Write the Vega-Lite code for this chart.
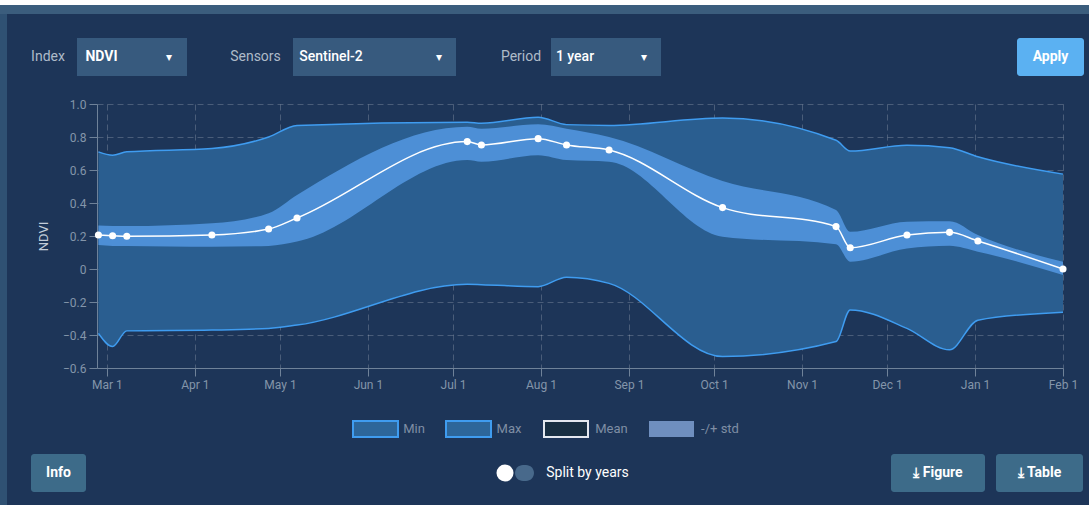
{
  "$schema": "https://vega.github.io/schema/vega-lite/v6.json",
  "padding": 0,
  "background": "#1d3558",
  "spacing": 0,
  "bounds": "full",
  "data": {"values": [{}]},
  "datasets": {
    "ndvi": [
      {"date": "2021-02-26", "min": -0.39, "lo": 0.145, "mean": 0.206, "hi": 0.263, "max": 0.71},
      {"date": "2021-03-03", "min": -0.47, "lo": 0.14, "mean": 0.202, "hi": 0.26, "max": 0.69},
      {"date": "2021-03-08", "min": -0.375, "lo": 0.14, "mean": 0.198, "hi": 0.26, "max": 0.71},
      {"date": "2021-04-07", "min": -0.37, "lo": 0.135, "mean": 0.206, "hi": 0.277, "max": 0.73},
      {"date": "2021-04-27", "min": -0.36, "lo": 0.14, "mean": 0.242, "hi": 0.338, "max": 0.8},
      {"date": "2021-05-07", "min": -0.34, "lo": 0.166, "mean": 0.309, "hi": 0.449, "max": 0.87},
      {"date": "2021-07-06", "min": -0.093, "lo": 0.66, "mean": 0.772, "hi": 0.862, "max": 0.89},
      {"date": "2021-07-11", "min": -0.095, "lo": 0.65, "mean": 0.752, "hi": 0.85, "max": 0.883},
      {"date": "2021-07-31", "min": -0.107, "lo": 0.69, "mean": 0.79, "hi": 0.877, "max": 0.92},
      {"date": "2021-08-10", "min": -0.05, "lo": 0.66, "mean": 0.752, "hi": 0.85, "max": 0.875},
      {"date": "2021-08-25", "min": -0.087, "lo": 0.65, "mean": 0.721, "hi": 0.8, "max": 0.87},
      {"date": "2021-10-04", "min": -0.53, "lo": 0.196, "mean": 0.372, "hi": 0.533, "max": 0.915},
      {"date": "2021-11-13", "min": -0.44, "lo": 0.15, "mean": 0.257, "hi": 0.358, "max": 0.78},
      {"date": "2021-11-18", "min": -0.248, "lo": 0.044, "mean": 0.129, "hi": 0.226, "max": 0.715},
      {"date": "2021-12-08", "min": -0.36, "lo": 0.125, "mean": 0.206, "hi": 0.287, "max": 0.75},
      {"date": "2021-12-23", "min": -0.49, "lo": 0.141, "mean": 0.222, "hi": 0.29, "max": 0.735},
      {"date": "2022-01-02", "min": -0.31, "lo": 0.105, "mean": 0.17, "hi": 0.206, "max": 0.68},
      {"date": "2022-02-01", "min": -0.262, "lo": -0.036, "mean": 0.0, "hi": 0.044, "max": 0.575}
    ]
  },
  "config": {
    "view": {"stroke": null},
    "font": "Roboto",
    "concat": {"spacing": 0},
    "text": {"font": "Roboto"},
    "axis": {
      "domainColor": "#6f8299",
      "tickColor": "#6f8299",
      "tickSize": 8,
      "labelColor": "#8495aa",
      "labelFont": "Roboto",
      "labelFontSize": 12,
      "labelPadding": 3,
      "labelOverlap": false,
      "grid": true,
      "gridColor": "#ffffff",
      "gridOpacity": 0.2,
      "gridDash": [6, 4],
      "titleColor": "#c3cdd9",
      "titleFont": "Roboto",
      "titleFontSize": 13,
      "titleFontWeight": "normal",
      "zindex": 1
    },
    "axisY": {"titlePadding": 12}
  },
  "vconcat": [
    {"width": 1089, "height": 5, "view": {"fill": "#ffffff"}, "mark": {"type": "text", "fontSize": 0}, "encoding": {"text": {"value": ""}}},
    {"width": 1089, "height": 9, "view": {"fill": "#3b5d7d"}, "mark": {"type": "text", "fontSize": 0}, "encoding": {"text": {"value": ""}}},
    {
      "spacing": 0,
      "bounds": "full",
      "hconcat": [
        {"width": 7, "height": 491, "view": {"fill": "#2f5173"}, "mark": {"type": "text", "fontSize": 0}, "encoding": {"text": {"value": ""}}},
        {
          "spacing": 0,
          "bounds": "full",
          "vconcat": [
            {"width": 1, "height": 24, "mark": {"type": "text", "fontSize": 0}, "encoding": {"text": {"value": ""}}},
            {
              "spacing": 0,
              "bounds": "flush",
              "hconcat": [
                {"width": 12, "height": 38, "mark": {"type": "text", "fontSize": 0}, "encoding": {"text": {"value": ""}}},
                {"width": 58, "height": 38, "mark": {"type": "text", "fontSize": 14, "color": "#aebbc9"}, "encoding": {"text": {"value": "Index"}}},
                {"width": 49, "height": 38, "view": {"fill": "#375a7e"}, "mark": {"type": "text", "fontSize": 14, "fontWeight": "bold", "color": "#ffffff"}, "encoding": {"text": {"value": "NDVI"}}},
                {"width": 24, "height": 38, "view": {"fill": "#375a7e"}, "mark": {"type": "text", "fontSize": 0}, "encoding": {"text": {"value": ""}}},
                {"width": 37, "height": 38, "view": {"fill": "#375a7e"}, "mark": {"type": "text", "fontSize": 12, "color": "#ffffff"}, "encoding": {"text": {"value": "▾"}}},
                {"width": 31, "height": 38, "mark": {"type": "text", "fontSize": 0}, "encoding": {"text": {"value": ""}}},
                {"width": 75, "height": 38, "mark": {"type": "text", "fontSize": 14, "color": "#aebbc9"}, "encoding": {"text": {"value": "Sensors"}}},
                {"width": 76, "height": 38, "view": {"fill": "#375a7e"}, "mark": {"type": "text", "fontSize": 14, "fontWeight": 500, "color": "#ffffff"}, "encoding": {"text": {"value": "Sentinel-2"}}},
                {"width": 52, "height": 38, "view": {"fill": "#375a7e"}, "mark": {"type": "text", "fontSize": 0}, "encoding": {"text": {"value": ""}}},
                {"width": 35, "height": 38, "view": {"fill": "#375a7e"}, "mark": {"type": "text", "fontSize": 12, "color": "#ffffff"}, "encoding": {"text": {"value": "▾"}}},
                {"width": 35, "height": 38, "mark": {"type": "text", "fontSize": 0}, "encoding": {"text": {"value": ""}}},
                {"width": 60, "height": 38, "mark": {"type": "text", "fontSize": 14, "color": "#aebbc9"}, "encoding": {"text": {"value": "Period"}}},
                {"width": 48, "height": 38, "view": {"fill": "#375a7e"}, "mark": {"type": "text", "fontSize": 14, "fontWeight": 500, "color": "#ffffff"}, "encoding": {"text": {"value": "1 year"}}},
                {"width": 28, "height": 38, "view": {"fill": "#375a7e"}, "mark": {"type": "text", "fontSize": 0}, "encoding": {"text": {"value": ""}}},
                {"width": 34, "height": 38, "view": {"fill": "#375a7e"}, "mark": {"type": "text", "fontSize": 12, "color": "#ffffff"}, "encoding": {"text": {"value": "▾"}}},
                {"width": 356, "height": 38, "mark": {"type": "text", "fontSize": 0}, "encoding": {"text": {"value": ""}}},
                {"width": 67, "height": 38, "view": {"fill": "#5bb1f2", "cornerRadius": 3}, "mark": {"type": "text", "fontSize": 14, "fontWeight": "bold", "color": "#ffffff"}, "encoding": {"text": {"value": "Apply"}}}
              ]
            },
            {"width": 1, "height": 22, "mark": {"type": "text", "fontSize": 0}, "encoding": {"text": {"value": ""}}},
            {
              "spacing": 0,
              "bounds": "flush",
              "hconcat": [
                {"width": 90, "height": 264, "mark": {"type": "text", "fontSize": 0}, "encoding": {"text": {"value": ""}}},
                {
                  "width": 966,
                  "height": 264,
                  "data": {"name": "ndvi"},
                  "encoding": {
                    "x": {
                      "field": "date",
                      "type": "temporal",
                      "title": null,
                      "scale": {
                        "type": "utc",
                        "domain": [
                          {"year": 2021, "month": 2, "date": 25, "hours": 12, "utc": true},
                          {"year": 2022, "month": 2, "date": 1, "utc": true}
                        ]
                      },
                      "axis": {"format": "%b %-d", "tickCount": {"interval": "month", "step": 1}, "labelFlush": false}
                    }
                  },
                  "layer": [
                    {
                      "mark": {"type": "area", "interpolate": "monotone", "color": "#2a5e90"},
                      "encoding": {
                        "y": {
                          "field": "min",
                          "type": "quantitative",
                          "title": "NDVI",
                          "scale": {"domain": [-0.6, 1], "nice": false, "zero": false},
                          "axis": {"values": [-0.6, -0.4, -0.2, 0, 0.2, 0.4, 0.6, 0.8, 1], "labelExpr": "datum.value == 0 ? '0' : format(datum.value, '.1f')"}
                        },
                        "y2": {"field": "max"}
                      }
                    },
                    {
                      "mark": {"type": "area", "interpolate": "monotone", "color": "#4d8fd6"},
                      "encoding": {
                        "y": {
                          "field": "lo",
                          "type": "quantitative",
                          "title": "NDVI",
                          "axis": {"values": [-0.6, -0.4, -0.2, 0, 0.2, 0.4, 0.6, 0.8, 1], "labelExpr": "datum.value == 0 ? '0' : format(datum.value, '.1f')"}
                        },
                        "y2": {"field": "hi"}
                      }
                    },
                    {
                      "mark": {"type": "line", "interpolate": "monotone", "color": "#3f9cf0", "strokeWidth": 1.5},
                      "encoding": {
                        "y": {
                          "field": "max",
                          "type": "quantitative",
                          "title": "NDVI",
                          "axis": {"values": [-0.6, -0.4, -0.2, 0, 0.2, 0.4, 0.6, 0.8, 1], "labelExpr": "datum.value == 0 ? '0' : format(datum.value, '.1f')"}
                        }
                      }
                    },
                    {
                      "mark": {"type": "line", "interpolate": "monotone", "color": "#3f9cf0", "strokeWidth": 1.5},
                      "encoding": {
                        "y": {
                          "field": "min",
                          "type": "quantitative",
                          "title": "NDVI",
                          "axis": {"values": [-0.6, -0.4, -0.2, 0, 0.2, 0.4, 0.6, 0.8, 1], "labelExpr": "datum.value == 0 ? '0' : format(datum.value, '.1f')"}
                        }
                      }
                    },
                    {
                      "mark": {"type": "line", "interpolate": "monotone", "color": "#ffffff", "strokeWidth": 1.5},
                      "encoding": {
                        "y": {
                          "field": "mean",
                          "type": "quantitative",
                          "title": "NDVI",
                          "axis": {"values": [-0.6, -0.4, -0.2, 0, 0.2, 0.4, 0.6, 0.8, 1], "labelExpr": "datum.value == 0 ? '0' : format(datum.value, '.1f')"}
                        }
                      }
                    },
                    {
                      "mark": {"type": "point", "shape": "circle", "filled": true, "color": "#ffffff", "opacity": 1, "size": 50},
                      "encoding": {
                        "y": {
                          "field": "mean",
                          "type": "quantitative",
                          "title": "NDVI",
                          "axis": {"values": [-0.6, -0.4, -0.2, 0, 0.2, 0.4, 0.6, 0.8, 1], "labelExpr": "datum.value == 0 ? '0' : format(datum.value, '.1f')"}
                        }
                      }
                    }
                  ]
                }
              ]
            },
            {"width": 1, "height": 30, "mark": {"type": "text", "fontSize": 0}, "encoding": {"text": {"value": ""}}},
            {
              "spacing": 0,
              "bounds": "flush",
              "hconcat": [
                {"width": 346, "height": 16, "mark": {"type": "text", "fontSize": 0}, "encoding": {"text": {"value": ""}}},
                {"width": 45, "height": 16, "view": {"fill": "#2d669a", "stroke": "#3f9cf0", "strokeWidth": 2}, "mark": {"type": "text", "fontSize": 0}, "encoding": {"text": {"value": ""}}},
                {"width": 32, "height": 16, "mark": {"type": "text", "fontSize": 13, "color": "#7f8ea4"}, "encoding": {"text": {"value": "Min"}}},
                {"width": 16, "height": 16, "mark": {"type": "text", "fontSize": 0}, "encoding": {"text": {"value": ""}}},
                {"width": 45, "height": 16, "view": {"fill": "#2d669a", "stroke": "#3f9cf0", "strokeWidth": 2}, "mark": {"type": "text", "fontSize": 0}, "encoding": {"text": {"value": ""}}},
                {"width": 36, "height": 16, "mark": {"type": "text", "fontSize": 13, "color": "#7f8ea4"}, "encoding": {"text": {"value": "Max"}}},
                {"width": 17, "height": 16, "mark": {"type": "text", "fontSize": 0}, "encoding": {"text": {"value": ""}}},
                {"width": 44, "height": 16, "view": {"fill": "#182f42", "stroke": "#e3e8ef", "strokeWidth": 2}, "mark": {"type": "text", "fontSize": 0}, "encoding": {"text": {"value": ""}}},
                {"width": 47, "height": 16, "mark": {"type": "text", "fontSize": 13, "color": "#7f8ea4"}, "encoding": {"text": {"value": "Mean"}}},
                {"width": 14, "height": 16, "mark": {"type": "text", "fontSize": 0}, "encoding": {"text": {"value": ""}}},
                {"width": 45, "height": 16, "view": {"fill": "#6f8fbf"}, "mark": {"type": "text", "fontSize": 0}, "encoding": {"text": {"value": ""}}},
                {"width": 52, "height": 16, "mark": {"type": "text", "fontSize": 13, "color": "#7f8ea4"}, "encoding": {"text": {"value": "-/+ std"}}}
              ]
            },
            {"width": 1, "height": 16, "mark": {"type": "text", "fontSize": 0}, "encoding": {"text": {"value": ""}}},
            {
              "spacing": 0,
              "bounds": "full",
              "hconcat": [
                {"width": 24, "height": 38, "mark": {"type": "text", "fontSize": 0}, "encoding": {"text": {"value": ""}}},
                {"width": 55, "height": 38, "view": {"fill": "#3d6b89", "cornerRadius": 3}, "mark": {"type": "text", "fontSize": 14, "fontWeight": "bold", "color": "#ffffff"}, "encoding": {"text": {"value": "Info"}}},
                {"width": 409, "height": 38, "mark": {"type": "text", "fontSize": 0}, "encoding": {"text": {"value": ""}}},
                {
                  "spacing": 0,
                  "bounds": "full",
                  "vconcat": [
                    {"width": 1, "height": 9, "mark": {"type": "text", "fontSize": 0}, "encoding": {"text": {"value": ""}}},
                    {
                      "spacing": 0,
                      "bounds": "full",
                      "hconcat": [
                        {"width": 20, "height": 20, "mark": {"type": "point", "shape": "circle", "filled": true, "color": "#ffffff", "opacity": 1, "size": 290}, "encoding": {}},
                        {
                          "spacing": 0,
                          "bounds": "full",
                          "vconcat": [
                            {"width": 1, "height": 2, "mark": {"type": "text", "fontSize": 0}, "encoding": {"text": {"value": ""}}},
                            {"width": 19, "height": 16, "view": {"fill": "#48698b", "cornerRadius": 8}, "mark": {"type": "text", "fontSize": 0}, "encoding": {"text": {"value": ""}}}
                          ]
                        }
                      ]
                    }
                  ]
                },
                {"width": 107, "height": 38, "mark": {"type": "text", "fontSize": 14, "color": "#ffffff"}, "encoding": {"text": {"value": "Split by years"}}},
                {"width": 250, "height": 38, "mark": {"type": "text", "fontSize": 0}, "encoding": {"text": {"value": ""}}},
                {"width": 94, "height": 38, "view": {"fill": "#3d6b89", "cornerRadius": 3}, "mark": {"type": "text", "fontSize": 14, "fontWeight": "bold", "color": "#ffffff"}, "encoding": {"text": {"value": "⤓ Figure"}}},
                {"width": 11, "height": 38, "mark": {"type": "text", "fontSize": 0}, "encoding": {"text": {"value": ""}}},
                {"width": 87, "height": 38, "view": {"fill": "#3d6b89", "cornerRadius": 3}, "mark": {"type": "text", "fontSize": 14, "fontWeight": "bold", "color": "#ffffff"}, "encoding": {"text": {"value": "⤓ Table"}}}
              ]
            },
            {"width": 1, "height": 12, "mark": {"type": "text", "fontSize": 0}, "encoding": {"text": {"value": ""}}}
          ]
        }
      ]
    }
  ]
}
